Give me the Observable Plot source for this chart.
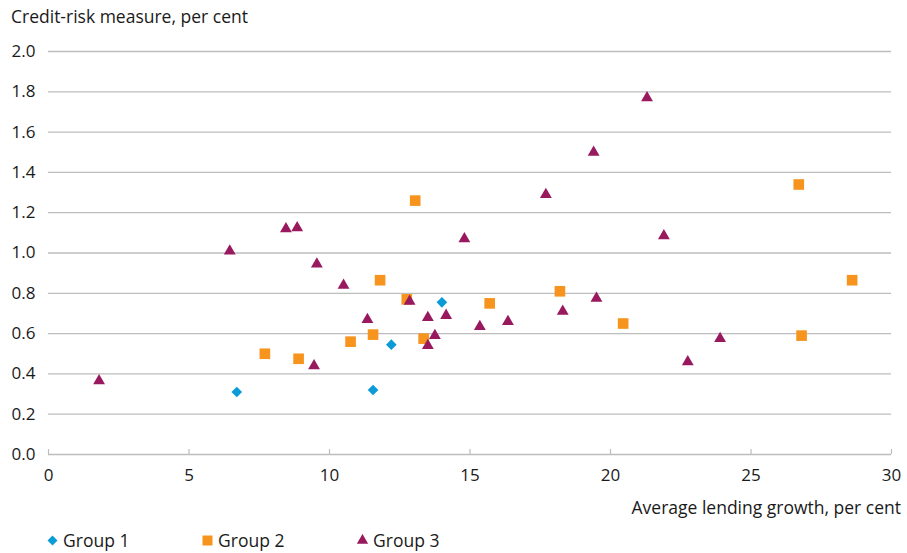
<!DOCTYPE html>
<html><head><meta charset="utf-8">
<script src="https://cdn.jsdelivr.net/npm/d3@7"></script>
<script src="https://cdn.jsdelivr.net/npm/@observablehq/plot@0.6"></script>
<style>
body{margin:0;background:#fff;font-family:"Open Sans",sans-serif;color:#1a1a1a;}
#wrap{position:relative;width:907px;height:553px;overflow:hidden;}
.ttl{position:absolute;font-size:17.5px;line-height:22px;white-space:nowrap;}
#legend{position:absolute;left:47px;top:529px;font-size:17.5px;line-height:22px;display:flex;}
#legend span.item{display:inline-flex;align-items:center;width:155px;white-space:nowrap;}
#legend svg{margin-right:5px;}
</style></head><body>
<div id="wrap">
<div id="chart" style="position:absolute;left:0;top:0"></div>
<div class="ttl" style="left:11px;top:5px">Credit-risk measure, per cent</div>
<div class="ttl" style="right:6px;top:496px">Average lending growth, per cent</div>
<div id="legend"></div>
</div>
<script>
const seriesNames = ["Group 1", "Group 2", "Group 3"];
const seriesColors = ["#0b9bd7", "#f7941d", "#99195f"];

const group1X = [6.7, 11.55, 12.2, 14.0];
const group1Y = [0.31, 0.32, 0.545, 0.755];

const group2X = [7.7, 8.9, 10.75, 11.55, 11.8, 12.75, 13.05, 13.35, 15.7, 18.2, 20.45, 26.7, 28.6, 26.8];
const group2Y = [0.50, 0.475, 0.56, 0.595, 0.865, 0.77, 1.26, 0.575, 0.75, 0.81, 0.65, 1.34, 0.865, 0.59];

const group3X = [1.8, 6.45, 8.45, 8.85, 9.55, 9.45, 10.5, 11.35, 12.85, 13.5, 13.5, 13.75, 14.15, 14.8, 15.35, 16.35, 17.7, 18.3, 19.5, 19.4, 21.3, 21.9, 22.75, 23.9];
const group3Y = [0.365, 1.01, 1.12, 1.125, 0.945, 0.44, 0.84, 0.67, 0.76, 0.68, 0.54, 0.59, 0.69, 1.07, 0.635, 0.66, 1.29, 0.71, 0.775, 1.5, 1.77, 1.085, 0.46, 0.575];

const xTicks = [0, 5, 10, 15, 20, 25, 30];
const yTicks = [0, 0.2, 0.4, 0.6, 0.8, 1.0, 1.2, 1.4, 1.6, 1.8, 2.0];

const toRows = (xs, ys, g) => xs.map((x, i) => ({x, y: ys[i], g}));
const g1 = toRows(group1X, group1Y, seriesNames[0]);
const g2 = toRows(group2X, group2Y, seriesNames[1]);
const g3 = toRows(group3X, group3Y, seriesNames[2]);

const grid = "#bdbdbd";
const chart = Plot.plot({
  width: 907,
  height: 520,
  marginTop: 51,
  marginBottom: 66,
  marginLeft: 48,
  marginRight: 16,
  style: {fontSize: "17px", fontFamily: "'Open Sans', sans-serif", color: "#1a1a1a", background: "#fff"},
  x: {domain: [0, 30]},
  y: {domain: [0, 2]},
  color: {domain: seriesNames, range: seriesColors},
  marks: [
    Plot.gridY(yTicks.filter(d => d > 0), {stroke: grid, strokeOpacity: 1, strokeWidth: 1.3}),
    Plot.ruleY([0], {stroke: grid, strokeWidth: 1.6}),
    Plot.axisY({ticks: yTicks, tickFormat: d3.format(".1f"), tickSize: 0, tickPadding: 13, label: null}),
    Plot.axisX({ticks: xTicks, tickSize: 5, dy: -5, stroke: grid, strokeWidth: 1.2, tickFormat: () => "", label: null}),
    Plot.axisX({ticks: xTicks, tickSize: 0, tickPadding: 14, label: null}),
    Plot.dot(g1, {x: "x", y: "y", fill: "g", symbol: "diamond2", r: 4.8}),
    Plot.dot(g2, {x: "x", y: "y", fill: "g", symbol: "square", r: 6.0}),
    Plot.dot(g3, {x: "x", y: "y", fill: "g", symbol: "triangle", r: 4.4})
  ]
});
document.getElementById("chart").append(chart);

const symPaths = [
  d3.symbol(d3.symbolDiamond2, 64)(),
  d3.symbol(d3.symbolSquare, 100)(),
  d3.symbol(d3.symbolTriangle, 56)()
];
const legend = document.getElementById("legend");
const NS = "http://www.w3.org/2000/svg";
seriesNames.forEach((name, i) => {
  const item = document.createElement("span");
  item.className = "item";
  const svg = document.createElementNS(NS, "svg");
  svg.setAttribute("width", 11);
  svg.setAttribute("height", 12);
  const p = document.createElementNS(NS, "path");
  p.setAttribute("d", symPaths[i]);
  p.setAttribute("transform", "translate(5.5,6.5)");
  p.setAttribute("fill", seriesColors[i]);
  svg.append(p);
  item.append(svg, document.createTextNode(name));
  legend.append(item);
});
</script>
</body></html>
